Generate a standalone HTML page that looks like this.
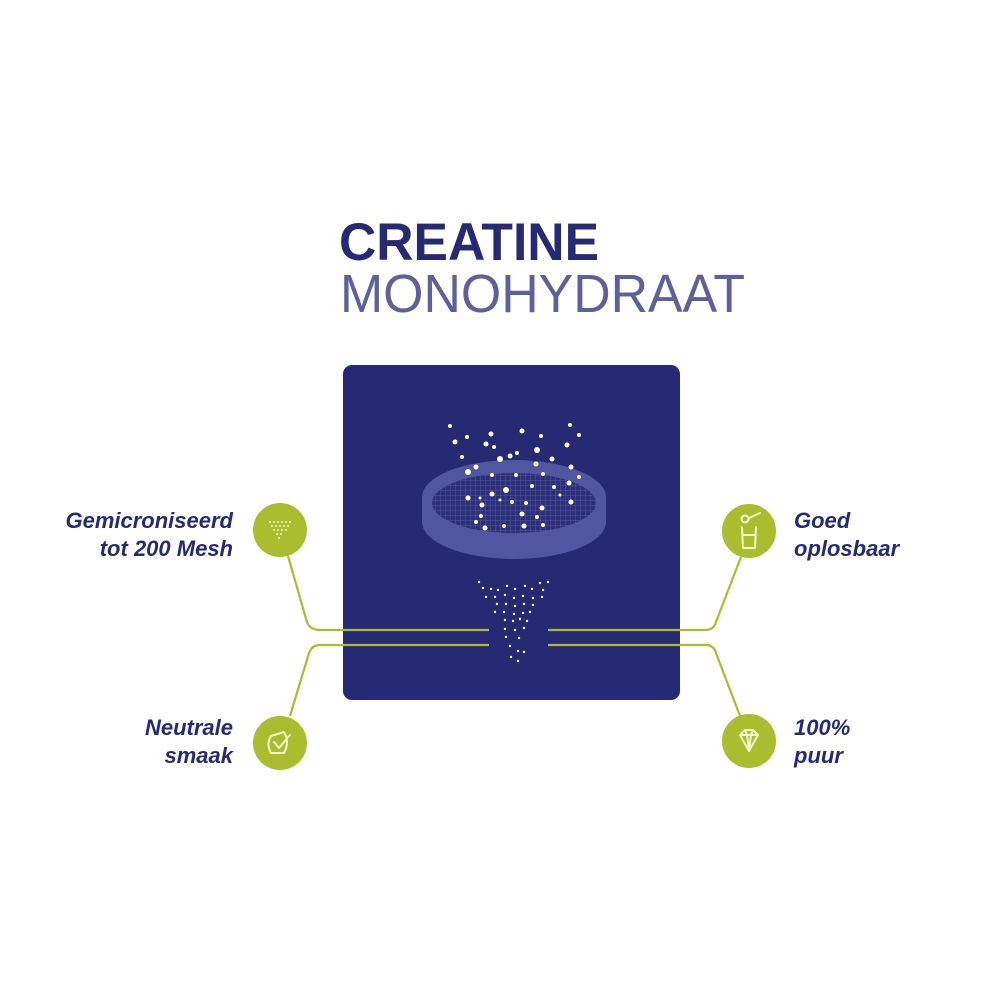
<!DOCTYPE html>
<html><head><meta charset="utf-8"><style>html,body{margin:0;padding:0;background:#fff}svg{display:block}</style></head>
<body>
<svg width="1000" height="1000" viewBox="0 0 1000 1000" xmlns="http://www.w3.org/2000/svg" font-family="Liberation Sans, sans-serif">
<rect width="1000" height="1000" fill="#fff"/>
<text x="339" y="260" font-size="53" font-weight="bold" fill="#262a72" textLength="260" lengthAdjust="spacingAndGlyphs">CREATINE</text>
<text x="340" y="312" font-size="54" fill="#5d609a" textLength="405" lengthAdjust="spacingAndGlyphs">MONOHYDRAAT</text>
<rect x="343" y="365" width="337" height="335" rx="9" fill="#262a72"/>
<defs>
<pattern id="mesh" width="5" height="5" patternUnits="userSpaceOnUse"><path d="M0 0H5M0 0V5" stroke="#5558a0" stroke-width="1"/></pattern>
</defs>
<path d="M422 497 L422 522 A92 37 0 0 0 606 522 L606 497 Z" fill="#5156a0"/>
<ellipse cx="514" cy="497" rx="92" ry="37" fill="#5156a0"/>
<ellipse cx="514" cy="503" rx="82" ry="30" fill="#2c3078"/>
<ellipse cx="514" cy="503" rx="82" ry="30" fill="url(#mesh)"/>
<g fill="#fff">
<circle cx="450" cy="426" r="2"/><circle cx="467" cy="437" r="2"/><circle cx="491" cy="434" r="2.5"/><circle cx="522" cy="431" r="2.5"/><circle cx="541" cy="436" r="2"/><circle cx="570" cy="425" r="2"/><circle cx="579" cy="435" r="2"/><circle cx="455" cy="442" r="2.5"/><circle cx="486" cy="444" r="2.5"/><circle cx="494" cy="447" r="2"/><circle cx="517" cy="453" r="2"/><circle cx="537" cy="450" r="3"/><circle cx="567" cy="445" r="2.5"/><circle cx="462" cy="457" r="2"/><circle cx="500" cy="459" r="3"/><circle cx="510" cy="456" r="2.5"/><circle cx="536" cy="464" r="2.5"/><circle cx="552" cy="459" r="2.5"/><circle cx="571" cy="467" r="2.5"/><circle cx="468" cy="472" r="3"/><circle cx="476" cy="467" r="2.5"/><circle cx="492" cy="475" r="2"/><circle cx="516" cy="475" r="2"/><circle cx="543" cy="474" r="2"/><circle cx="579" cy="477" r="2"/><circle cx="506" cy="490" r="3"/><circle cx="492" cy="494" r="2.5"/><circle cx="532" cy="486" r="2"/><circle cx="569" cy="483" r="2.5"/><circle cx="554" cy="487" r="2"/><circle cx="468" cy="498" r="2.5"/><circle cx="482" cy="505" r="2.5"/><circle cx="512" cy="502" r="2"/><circle cx="526" cy="503" r="2"/><circle cx="542" cy="508" r="2.5"/><circle cx="571" cy="502" r="2.5"/><circle cx="481" cy="516" r="2"/><circle cx="522" cy="514" r="2.5"/><circle cx="537" cy="517" r="2"/><circle cx="476" cy="522" r="2"/><circle cx="485" cy="528" r="2.5"/><circle cx="504" cy="526" r="2"/><circle cx="524" cy="526" r="2.5"/><circle cx="543" cy="525" r="2"/><circle cx="480" cy="498" r="1.5"/><circle cx="500" cy="500" r="1.5"/><circle cx="560" cy="495" r="1.5"/>
</g>
<g fill="#fff">
<circle cx="479" cy="582" r="1.2"/><circle cx="483" cy="588" r="1.2"/><circle cx="491" cy="589" r="1.2"/><circle cx="498" cy="590" r="1.2"/><circle cx="507" cy="586" r="1.2"/><circle cx="515" cy="589" r="1.2"/><circle cx="525" cy="586" r="1.2"/><circle cx="532" cy="589" r="1.2"/><circle cx="540" cy="583" r="1.2"/><circle cx="548" cy="582" r="1.2"/><circle cx="543" cy="590" r="1.2"/><circle cx="486" cy="597" r="1.2"/><circle cx="495" cy="597" r="1.2"/><circle cx="505" cy="595" r="1.2"/><circle cx="514" cy="598" r="1.2"/><circle cx="523" cy="596" r="1.2"/><circle cx="533" cy="598" r="1.2"/><circle cx="542" cy="597" r="1.2"/><circle cx="497" cy="604" r="1.2"/><circle cx="506" cy="604" r="1.2"/><circle cx="515" cy="606" r="1.2"/><circle cx="524" cy="604" r="1.2"/><circle cx="533" cy="605" r="1.2"/><circle cx="495" cy="612" r="1.2"/><circle cx="504" cy="612" r="1.2"/><circle cx="514" cy="614" r="1.2"/><circle cx="523" cy="613" r="1.2"/><circle cx="530" cy="612" r="1.2"/><circle cx="505" cy="620" r="1.2"/><circle cx="513" cy="621" r="1.2"/><circle cx="520" cy="619" r="1.2"/><circle cx="527" cy="621" r="1.2"/><circle cx="505" cy="629" r="1.2"/><circle cx="515" cy="630" r="1.2"/><circle cx="524" cy="628" r="1.2"/><circle cx="506" cy="637" r="1.2"/><circle cx="519" cy="638" r="1.2"/><circle cx="510" cy="646" r="1.2"/><circle cx="518" cy="651" r="1.2"/><circle cx="524" cy="652" r="1.2"/><circle cx="511" cy="657" r="1.2"/><circle cx="518" cy="661" r="1.2"/>
</g>
<g fill="none" stroke="#a9bd2e" stroke-width="2.2">
<path d="M288 556 L307 622 Q310 630 320 630 L489 630"/>
<path d="M489 645 L320 645 Q312 645 309 653 L290 716"/>
<path d="M548 630 L705 630 Q714 630 716 622 L741 557"/>
<path d="M548 645 L705 645 Q714 645 716 653 L740 716"/>
</g>
<g fill="#a9bd2e">
<circle cx="280" cy="530" r="27"/><circle cx="280" cy="743" r="27"/>
<circle cx="749" cy="531" r="27"/><circle cx="749" cy="741" r="27"/>
</g>
<g fill="#f3f6c8">
<circle cx="270" cy="522" r="1"/><circle cx="274" cy="522" r="1"/><circle cx="278" cy="522" r="1"/><circle cx="282" cy="522" r="1"/><circle cx="286" cy="522" r="1"/><circle cx="290" cy="522" r="1"/>
<circle cx="272" cy="526" r="1"/><circle cx="276" cy="526" r="1"/><circle cx="280" cy="526" r="1"/><circle cx="284" cy="526" r="1"/><circle cx="288" cy="526" r="1"/>
<circle cx="274" cy="530" r="1"/><circle cx="278" cy="530" r="1"/><circle cx="282" cy="530" r="1"/><circle cx="286" cy="530" r="1"/>
<circle cx="277" cy="534" r="1"/><circle cx="281" cy="534" r="1"/><circle cx="279" cy="538" r="1"/>
</g>
<g fill="none" stroke="#f3f6c8" stroke-width="2" stroke-linejoin="round" stroke-linecap="round">
<path d="M271 736 L284 732 Q290 742 284 753 L271 753 Q266 744 271 736 Z"/>
<path d="M274 742 L279 748 L290 735"/>
<path d="M742 527 L743 548 L755 548 L756 527"/>
<path d="M743 535 L755 535"/>
<circle cx="745" cy="519" r="3.5"/><path d="M749 518 L760 513"/>
<path d="M740 735 L745 730 L753 730 L758 735 L749 751 Z M740 735 L758 735 M745 730 L747 735 L749 751 M753 730 L751 735 L749 751"/>
</g>
<g font-size="22" font-weight="bold" font-style="italic" fill="#262a72">
<text x="233" y="528" text-anchor="end">Gemicroniseerd</text>
<text x="233" y="556" text-anchor="end">tot 200 Mesh</text>
<text x="233" y="735" text-anchor="end">Neutrale</text>
<text x="233" y="763" text-anchor="end">smaak</text>
<text x="794" y="528">Goed</text>
<text x="794" y="556">oplosbaar</text>
<text x="794" y="735">100%</text>
<text x="794" y="763">puur</text>
</g>
</svg>
</body></html>
